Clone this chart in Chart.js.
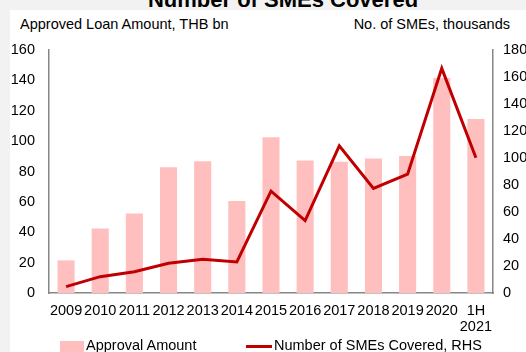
<!DOCTYPE html>
<html>
<head>
<meta charset="utf-8">
<script src="https://cdn.jsdelivr.net/npm/chart.js@4.4.1/dist/chart.umd.min.js"></script>
<style>
  html, body { margin: 0; padding: 0; }
  body {
    width: 526px; height: 352px; overflow: hidden; position: relative;
    background: #f2f2f2; font-family: "Liberation Sans", Arial, sans-serif; color: #000;
  }
  .panel { position: absolute; left: 10px; top: 10px; right: 0; bottom: 0; background: #fff; }
  .title {
    position: absolute; top: -11px; left: 0; width: 566px; text-align: center;
    font-size: 22px; line-height: 22px; font-weight: bold;
  }
  .axis-title { position: absolute; top: 17px; font-size: 14.5px; line-height: 14px; white-space: nowrap; }
  #chartWrap { position: absolute; left: 0; top: 0; width: 526px; height: 352px; }
  #legend { position: absolute; left: 0; top: 338px; width: 526px; height: 20px; font-size: 14.5px; line-height: 14px; }
  #legend .item { position: absolute; white-space: nowrap; }
  #legend .swatch { position: absolute; }
</style>
</head>
<body>
<div class="panel"></div>
<div class="title">Number of SMEs Covered</div>
<div class="axis-title" style="left:20px">Approved Loan Amount, THB bn</div>
<div class="axis-title" style="right:16px">No. of SMEs, thousands</div>
<div id="chartWrap"><canvas id="smeChart" width="526" height="352"></canvas></div>
<div id="legend"></div>

<script>
// Categories and series
const years = ['2009', '2010', '2011', '2012', '2013', '2014', '2015', '2016', '2017', '2018', '2019', '2020', ['1H', '2021']];
const approvalAmount = [21.5, 42.5, 52.3, 82.8, 86.7, 60.6, 102.6, 87.2, 86.5, 88.6, 90.2, 141.6, 114.6]; // THB bn
const smesCovered = [4.7, 12.1, 15.8, 22, 25, 23, 75.5, 53.6, 109, 77.5, 88, 166.4, 100.2]; // thousands
const leftTicks = [0, 160, 20];   // min, max, step
const rightTicks = [0, 180, 20];

const FONT = { family: '"Liberation Sans", Arial, sans-serif', size: 14.5, lineHeight: 1.1 };
const AXIS_GREY = '#868686';

const ctx = document.getElementById('smeChart').getContext('2d');
const chart = new Chart(ctx, {
    type: 'bar',
    data: {
        labels: years,
        datasets: [
            {
                type: 'line',
                label: 'Number of SMEs Covered, RHS',
                data: smesCovered,
                yAxisID: 'y1',
                borderColor: '#c00000',
                backgroundColor: '#c00000',
                borderWidth: 3,
                pointRadius: 0,
                tension: 0,
                order: 0
            },
            {
                label: 'Approval Amount',
                data: approvalAmount,
                yAxisID: 'y',
                backgroundColor: '#ffbfbf',
                categoryPercentage: 1,
                barPercentage: 0.5,
                order: 1
            }
        ]
    },
    options: {
        responsive: false,
        animation: false,
        layout: { padding: { left: 0, right: 0, top: 50, bottom: 14 } },
        plugins: {
            legend: { display: false },
            tooltip: { enabled: false }
        },
        scales: {
            x: {
                grid: { display: false, drawTicks: false },
                border: { color: AXIS_GREY, width: 1.5 },
                ticks: { font: FONT, color: '#000', padding: 10, maxRotation: 0, autoSkip: false },
                afterFit: (s) => { s.height = 45; }
            },
            y: {
                position: 'left',
                min: leftTicks[0], max: leftTicks[1],
                grid: { display: false, drawTicks: false },
                border: { color: AXIS_GREY, width: 1.5 },
                ticks: { stepSize: leftTicks[2], font: FONT, color: '#000', padding: 14 },
                afterFit: (s) => { s.width = 49; }
            },
            y1: {
                position: 'right',
                min: rightTicks[0], max: rightTicks[1],
                grid: { display: false, drawTicks: false },
                border: { color: AXIS_GREY, width: 1.5 },
                ticks: { stepSize: rightTicks[2], font: FONT, color: '#000', padding: 10 },
                afterFit: (s) => { s.width = 33; }
            }
        }
    }
});

// Legend built from the datasets (bar first, then the line)
const legend = document.getElementById('legend');
const legendSpots = [
    { ds: chart.data.datasets[1], x: 60, w: 24, h: 13, top: 3 },
    { ds: chart.data.datasets[0], x: 246, w: 26, h: 3, top: 7 }
];
legendSpots.forEach(({ ds, x, w, h, top }) => {
    const item = document.createElement('div');
    item.className = 'item';
    item.style.left = x + 'px';
    const sw = document.createElement('div');
    sw.className = 'swatch';
    sw.style.cssText = `left:0;top:${top}px;width:${w}px;height:${h}px;background:${ds.type === 'line' ? ds.borderColor : ds.backgroundColor}`;
    const txt = document.createElement('span');
    txt.style.marginLeft = (w + 2) + 'px';
    txt.textContent = ds.label;
    item.appendChild(sw);
    item.appendChild(txt);
    legend.appendChild(item);
});
</script>
</body>
</html>
